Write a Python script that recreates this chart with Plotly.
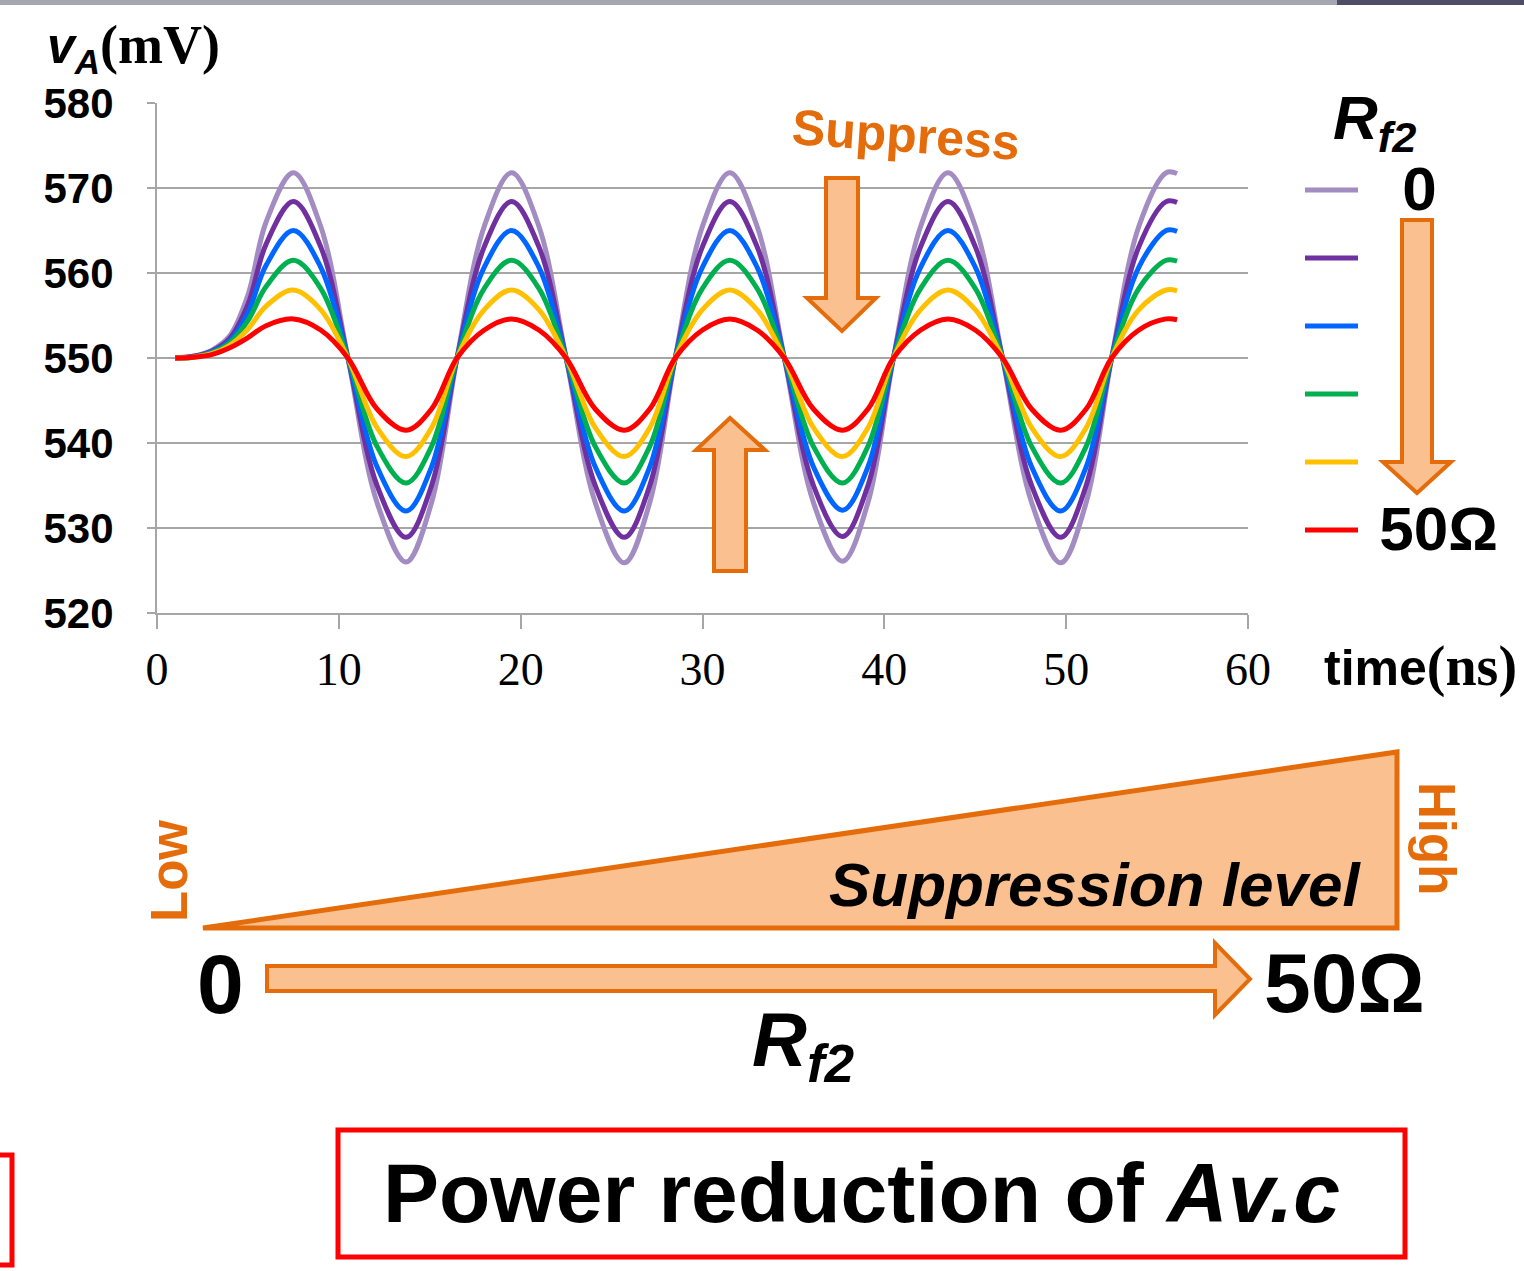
import plotly.graph_objects as go

W, H = 1524, 1271

# ---------------- data ----------------
time_ns = [1.0, 2.0, 3.0, 4.0, 5.0, 6.0, 7.5,
           9.0, 10.5, 12.1, 13.7, 15.1, 16.5, 18.0, 19.5,
           21.0, 22.5, 24.1, 25.7, 27.1, 28.5, 30.0, 31.5,
           33.0, 34.5, 36.1, 37.7, 39.1, 40.5, 42.0, 43.5,
           45.0, 46.5, 48.1, 49.7, 51.1, 52.5, 54.0, 55.5, 56.1]

vA_rf2_0 = [550.0, 550.2, 550.9, 552.6, 557.4, 566.0, 571.8,
            565.5, 550.0, 533.0, 526.0, 533.0, 550.0, 565.5, 571.8,
            565.5, 550.0, 533.0, 525.9, 533.0, 550.0, 565.5, 571.8,
            565.5, 550.0, 533.0, 526.1, 533.0, 550.0, 565.5, 571.8,
            565.5, 550.0, 533.0, 525.9, 533.0, 550.0, 565.5, 571.8, 571.7]
vA_rf2_1 = [550.0, 550.2, 550.8, 552.3, 556.3, 563.4, 568.4,
            563.1, 550.0, 535.0, 528.9, 535.0, 550.0, 563.1, 568.4,
            563.1, 550.0, 535.0, 528.9, 535.0, 550.0, 563.1, 568.4,
            563.1, 550.0, 535.0, 529.0, 535.0, 550.0, 563.1, 568.4,
            563.1, 550.0, 535.0, 528.9, 535.0, 550.0, 563.1, 568.4, 568.3]
vA_rf2_2 = [550.0, 550.1, 550.7, 552.0, 555.3, 560.9, 565.0,
            560.7, 550.0, 537.2, 532.0, 537.2, 550.0, 560.7, 565.0,
            560.7, 550.0, 537.2, 532.0, 537.2, 550.0, 560.7, 565.0,
            560.7, 550.0, 537.2, 532.1, 537.2, 550.0, 560.7, 565.0,
            560.7, 550.0, 537.2, 532.0, 537.2, 550.0, 560.7, 565.0, 564.9]
vA_rf2_3 = [550.0, 550.1, 550.6, 551.8, 554.4, 558.4, 561.5,
            558.2, 550.0, 539.6, 535.3, 539.6, 550.0, 558.2, 561.5,
            558.2, 550.0, 539.6, 535.3, 539.6, 550.0, 558.2, 561.5,
            558.2, 550.0, 539.6, 535.3, 539.6, 550.0, 558.2, 561.5,
            558.2, 550.0, 539.6, 535.3, 539.6, 550.0, 558.2, 561.5, 561.4]
vA_rf2_4 = [550.0, 550.1, 550.5, 551.5, 553.4, 556.1, 558.0,
            555.7, 550.0, 541.8, 538.4, 541.8, 550.0, 555.7, 558.0,
            555.7, 550.0, 541.8, 538.4, 541.8, 550.0, 555.7, 558.0,
            555.7, 550.0, 541.8, 538.4, 541.8, 550.0, 555.7, 558.0,
            555.7, 550.0, 541.8, 538.4, 541.8, 550.0, 555.7, 558.0, 557.9]
vA_rf2_5 = [550.0, 550.1, 550.4, 551.2, 552.4, 553.8, 554.6,
            553.3, 550.0, 544.0, 541.5, 544.0, 550.0, 553.3, 554.6,
            553.3, 550.0, 544.0, 541.5, 544.0, 550.0, 553.3, 554.6,
            553.3, 550.0, 544.0, 541.5, 544.0, 550.0, 553.3, 554.6,
            553.3, 550.0, 544.0, 541.5, 544.0, 550.0, 553.3, 554.6, 554.5]

series_values = [vA_rf2_0, vA_rf2_1, vA_rf2_2, vA_rf2_3, vA_rf2_4, vA_rf2_5]
legend_labels = ["0", "", "", "", "", "50Ω"]
series_colors = ["#A28CC2", "#7030A0", "#0066FF", "#00B050", "#FFC000", "#FF0000"]

y_ticks = [520, 530, 540, 550, 560, 570, 580]
x_ticks = [0, 10, 20, 30, 40, 50, 60]

# ---------------- helpers (pixel -> paper) ----------------
def fx(x):
    return x / W

def fy(y):
    return 1 - y / H

def path(points, close=True):
    s = "M" + " L".join(f"{fx(x):.5f},{fy(y):.5f}" for x, y in points)
    return s + (" Z" if close else "")

ORANGE = "#E46C0A"
ORANGE_FILL = "#FAC090"
SANS = "Liberation Sans"
SERIF = "Liberation Serif"

# leading gaps so the legend labels sit where the reference puts them
label_pad = {"0": "<span style='font-size:56px'>    </span>",
             "50Ω": "<span style='font-size:47px'>   </span>"}

fig = go.Figure()
for vals, lab, col in zip(series_values, legend_labels, series_colors):
    name = (label_pad[lab] + f"<span style='font-size:62px'>{lab}</span>") if lab else " "
    fig.add_trace(go.Scatter(
        x=time_ns, y=vals, mode="lines", name=name,
        line=dict(color=col, width=5, shape="spline", smoothing=1.0),
        hoverinfo="skip",
    ))

x0d, x1d = 157, 1248
y0d, y1d = 613, 103

LEG_X = 1300
LEG_TOP = 151

fig.update_layout(
    width=W, height=H,
    margin=dict(l=0, r=0, t=0, b=0, autoexpand=False),
    paper_bgcolor="white", plot_bgcolor="white",
    font=dict(family=SANS, color="black"),
    xaxis=dict(
        domain=[fx(x0d), fx(x1d)], range=[0, 60], tickvals=x_ticks,
        showgrid=False, zeroline=False, showline=True, linecolor="#A6A6A6", linewidth=2,
        ticks="outside", ticklen=14, tickwidth=2, tickcolor="#A6A6A6",
        tickfont=dict(family=SERIF, size=46, color="black"), ticklabelstandoff=1,
    ),
    yaxis=dict(
        domain=[fy(y0d), fy(y1d)], range=[520, 580], tickvals=y_ticks,
        showgrid=True, gridcolor="#A6A6A6", gridwidth=2, zeroline=False,
        showline=True, linecolor="#A6A6A6", linewidth=2,
        ticks="outside", ticklen=8, tickwidth=2, tickcolor="#A6A6A6",
        tickfont=dict(family=SANS, size=42, color="black", weight="bold"), ticklabelstandoff=25,
    ),
    showlegend=True,
    legend=dict(
        x=fx(LEG_X), y=fy(LEG_TOP), xanchor="left", yanchor="top",
        bgcolor="rgba(0,0,0,0)", borderwidth=0,
        font=dict(family=SANS, size=50, color="black", weight="bold"),
        itemwidth=30, tracegroupgap=0,
    ),
)

shapes = []
def add_poly(points, fill=ORANGE_FILL, line=ORANGE, width=4):
    shapes.append(dict(type="path", path=path(points), xref="paper", yref="paper",
                       fillcolor=fill, line=dict(color=line, width=width), layer="above"))

# Arrows in chart
add_poly([(826, 178), (858, 178), (858, 298), (876, 298), (842, 331), (807, 298), (826, 298)])
add_poly([(714, 571), (746, 571), (746, 450), (765, 450), (730, 418), (696, 450), (714, 450)])
# Legend arrow
add_poly([(1402, 220), (1432, 220), (1432, 462), (1451, 462), (1417, 493), (1383, 462), (1402, 462)])
# Suppression triangle
add_poly([(203, 928), (1397, 752), (1397, 928)], width=5)
# Bottom right arrow
add_poly([(267, 966), (1215, 966), (1215, 943), (1250, 979), (1215, 1015), (1215, 991), (267, 991)])

# red boxes
shapes.append(dict(type="rect", xref="paper", yref="paper", x0=fx(338), x1=fx(1405),
                   y0=fy(1257), y1=fy(1130), line=dict(color="#FF0000", width=5)))
shapes.append(dict(type="rect", xref="paper", yref="paper", x0=fx(-20), x1=fx(12),
                   y0=fy(1265), y1=fy(1155), line=dict(color="#FF0000", width=5)))
# top bar
shapes.append(dict(type="rect", xref="paper", yref="paper", x0=0, x1=1, y0=fy(5), y1=1,
                   fillcolor="#A5A8B0", line=dict(width=0)))
shapes.append(dict(type="rect", xref="paper", yref="paper", x0=fx(1337), x1=1, y0=fy(5), y1=1,
                   fillcolor="#4E4F66", line=dict(width=0)))
fig.update_layout(shapes=shapes)

ann = []
def text(x, y, t, size, color="black", family=SANS, xanchor="center", angle=0):
    ann.append(dict(x=fx(x), y=fy(y), xref="paper", yref="paper", text=t, showarrow=False,
                    xanchor=xanchor, yanchor="middle", textangle=angle,
                    font=dict(family=family, size=size, color=color)))

# legend title (R_f2)
text(1331, 122, "<b><i>R</i></b><sub><b><i>f2</i></b></sub>", 62, xanchor="left")
text(45, 48, f"<b><i>v</i></b><sub><b><i>A</i></b></sub><span style='font-family:{SERIF};font-size:54px'><b>(mV)</b></span>", 50, xanchor="left")
text(1322, 666, f"<b>time</b><span style='font-family:{SERIF};font-size:56px'><b>(ns)</b></span>", 50, xanchor="left")
text(906, 135, "<b>Suppress</b>", 50, color=ORANGE, angle=4)
text(1095, 884, "<b><i>Suppression level</i></b>", 62)
text(169, 871, "<b>Low</b>", 51, color=ORANGE, angle=-90)
text(1437, 838, "<b>High</b>", 51, color=ORANGE, angle=90)
text(220, 984, "<b>0</b>", 84)
text(1344, 983, "<b>50Ω</b>", 84)
text(803, 1045, "<b><i>R</i></b><sub><b><i>f2</i></b></sub>", 76)
text(862, 1193, "<b>Power reduction of <i>Av.c</i></b>", 84)
fig.update_layout(annotations=ann)

# longer legend swatches, as in the reference
post = ("document.body.style.margin='0';document.body.style.overflow='hidden';"
        "document.querySelectorAll('g.legendlines path').forEach(function(p){p.setAttribute('d','M5,0h53');});")
fig.write_html("out.html", config=dict(displayModeBar=False), post_script=post)
